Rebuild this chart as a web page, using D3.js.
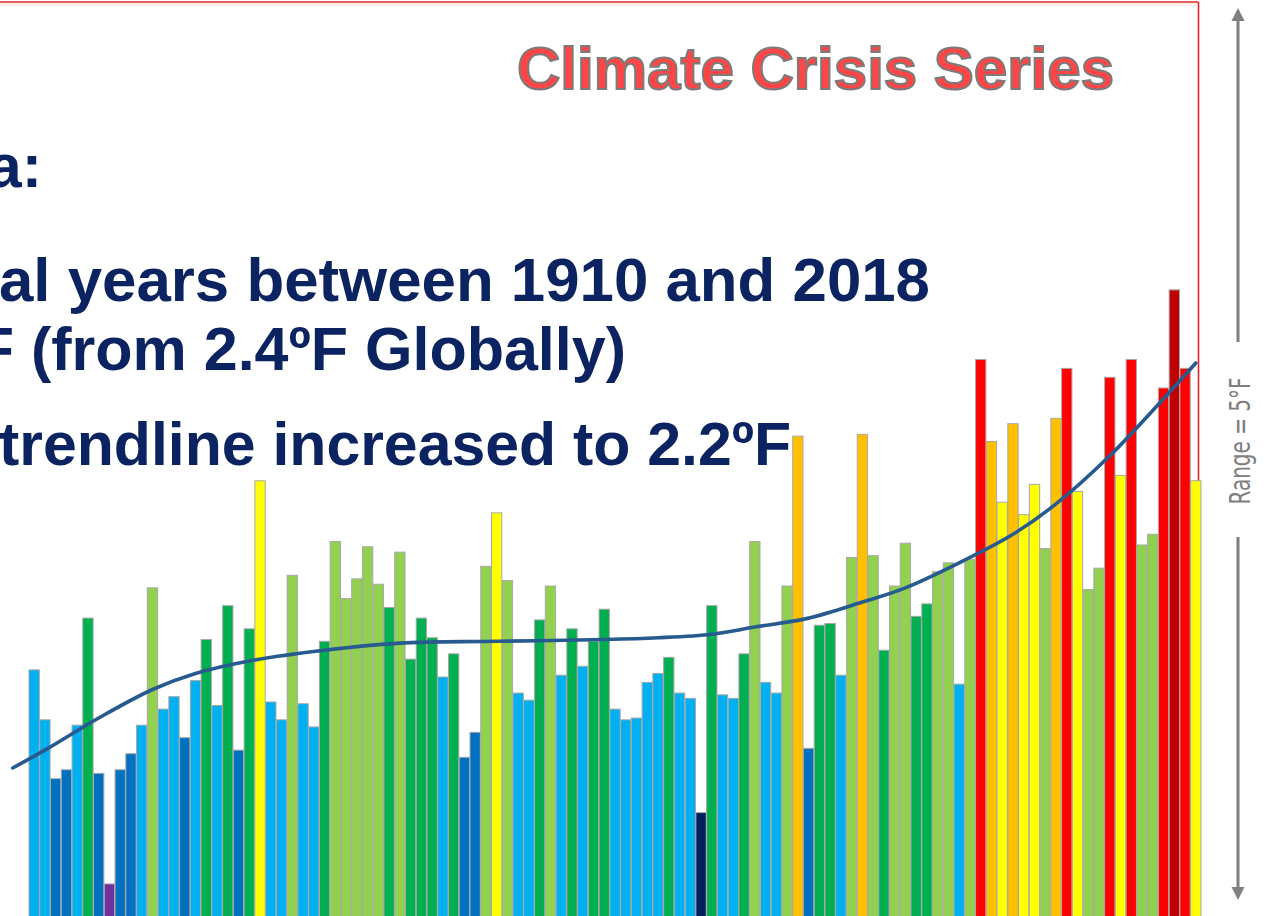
<!DOCTYPE html>
<html>
<head>
<meta charset="utf-8">
<script src="https://cdn.jsdelivr.net/npm/d3@7"></script>
<style>
  html, body { margin: 0; padding: 0; background: #ffffff; overflow: hidden; }
  svg { display: block; }
</style>
</head>
<body>
<div id="chart"></div>
<script>
// Annual temperature departures (°F), one bar per year 1910–2018
const firstYear = 1910;
const anomalies = [
  -1.21, -1.49, -1.82, -1.77, -1.52, -0.92, -1.79, -2.41, -1.77, -1.68,
  -1.52, -0.75, -1.43, -1.36, -1.59, -1.27, -1.04, -1.41, -0.85, -1.66,
  -0.98, -0.15, -1.39, -1.49, -0.68, -1.40, -1.53, -1.05, -0.49, -0.81,
  -0.70, -0.52, -0.73, -0.86, -0.55, -1.15, -0.92, -1.03, -1.25, -1.12,
  -1.70, -1.56, -0.63, -0.33, -0.71, -1.34, -1.38, -0.93, -0.74, -1.24,
  -0.98, -1.19, -1.05, -0.87, -1.43, -1.49, -1.48, -1.28, -1.23, -1.14,
  -1.34, -1.37, -2.01, -0.85, -1.35, -1.37, -1.12, -0.49, -1.28, -1.34,
  -0.74,  0.10, -1.65, -0.96, -0.95, -1.24, -0.58,  0.11, -0.57, -1.10,
  -0.74, -0.50, -0.91, -0.84, -0.66, -0.61, -1.29, -0.59,  0.53,  0.07,
  -0.27,  0.17, -0.34, -0.17, -0.53,  0.20,  0.48, -0.21, -0.76, -0.64,
   0.43, -0.12,  0.53, -0.51, -0.45,  0.37,  0.92,  0.48, -0.15
];
const years = anomalies.map((_, i) => firstYear + i);

// Trendline readings (year, °F)
const trendYears  = [1908, 1911, 1916, 1921, 1925, 1930, 1937, 1944, 1953, 1963, 1968,
                     1973, 1977, 1982, 1987, 1991, 1996, 2001, 2005, 2010, 2015, 2018];
const trendValues = [-1.76, -1.66, -1.48, -1.32, -1.23, -1.16, -1.10, -1.06, -1.05, -1.04, -1.03,
                     -1.01, -0.97, -0.92, -0.83, -0.75, -0.61, -0.45, -0.28, -0.01, 0.31, 0.51];

// Colour classes by departure
const classBreaks = [-2.2, -1.9, -1.545, -1.17, -0.825, -0.4, 0, 0.3, 0.7];
const classColors = ["#7030a0", "#002060", "#0070c0", "#00b0f0", "#00b050",
                     "#92d050", "#ffff00", "#ffc000", "#ff0000", "#c00000"];

// Headline text (lines run off the left edge of the panel)
const titleText = "Climate Crisis Series";
const headlineLines = [
  { text: "a:", x: 42, anchor: "end", baseline: 187 },
  { text: "al years between 1910 and 2018", x: -1, anchor: "start", baseline: 301, len: 931 },
  { text: "F (from 2.4ºF Globally)", x: 626, anchor: "end", baseline: 370 },
  { text: "trendline increased to 2.2ºF", x: -1, anchor: "start", baseline: 465, len: 792 }
];
const rangeLabel = "Range = 5°F";
const rangeSpan = [-2.5, 2.5];

const W = 1264, H = 916;
const svg = d3.select("#chart").append("svg")
  .attr("width", W).attr("height", H)
  .attr("viewBox", `0 0 ${W} ${H}`);

svg.append("rect").attr("width", W).attr("height", H).attr("fill", "#ffffff");

const x = d3.scaleBand().domain(years).range([29, 1201]).paddingInner(0.04).paddingOuter(0);
const y = d3.scaleLinear().domain(rangeSpan).range([900, 8]);
const color = d3.scaleThreshold().domain(classBreaks).range(classColors);

// continuous year axis through bar centres (for the trendline)
const xYear = d3.scaleLinear()
  .domain([years[0], years[years.length - 1]])
  .range([x(years[0]) + x.bandwidth() / 2, x(years[years.length - 1]) + x.bandwidth() / 2]);

// slide frame
svg.append("line").attr("x1", 0).attr("x2", 1197).attr("y1", 4.5).attr("y2", 4.5)
  .attr("stroke", "#fbf1ea").attr("stroke-width", 3);
const frame = svg.append("g").attr("fill", "none").attr("stroke", "#e3262d").attr("stroke-width", 1.6);
frame.append("line").attr("x1", 0).attr("x2", 1198.5).attr("y1", 2).attr("y2", 2);
frame.append("line").attr("x1", 1198.5).attr("x2", 1198.5).attr("y1", 2).attr("y2", H);

// title
svg.append("text")
  .attr("x", 1114).attr("y", 89)
  .attr("text-anchor", "end")
  .attr("font-family", "'Liberation Sans', Arial, sans-serif")
  .attr("font-weight", "bold")
  .attr("font-size", 60)
  .attr("fill", "#ff4646")
  .attr("stroke", "#7b7b7b")
  .attr("stroke-width", 2)
  .text(titleText);

// headline lines
svg.append("g").selectAll("text").data(headlineLines).join("text")
  .attr("x", d => d.x).attr("y", d => d.baseline)
  .attr("text-anchor", d => d.anchor)
  .attr("font-family", "'Liberation Sans', Arial, sans-serif")
  .attr("font-weight", "bold")
  .attr("font-size", 61)
  .attr("fill", "#0b2361")
  .each(function (d) {
    if (d.len) d3.select(this).attr("textLength", d.len).attr("lengthAdjust", "spacingAndGlyphs");
  })
  .text(d => d.text);

// bars
svg.append("g").selectAll("rect").data(years).join("rect")
  .attr("x", d => x(d))
  .attr("y", (d, i) => y(anomalies[i]))
  .attr("width", x.bandwidth())
  .attr("height", (d, i) => H + 4 - y(anomalies[i]))
  .attr("fill", (d, i) => color(anomalies[i]))
  .attr("stroke", "#a8a8a8")
  .attr("stroke-width", 1);

// trendline
const trend = trendYears.map((yr, i) => [yr, trendValues[i]]);
svg.append("path")
  .datum(trend)
  .attr("fill", "none")
  .attr("stroke", "#275a8e")
  .attr("stroke-width", 3.6)
  .attr("stroke-linecap", "round")
  .attr("d", d3.line().x(d => xYear(d[0])).y(d => y(d[1])).curve(d3.curveCatmullRom.alpha(0.5)));

// range indicator on the right
const rx = 1238;
const rg = svg.append("g").attr("fill", "#7f7f7f").attr("stroke", "#7f7f7f");
rg.append("line").attr("x1", rx).attr("x2", rx).attr("y1", 18).attr("y2", 342).attr("stroke-width", 3);
rg.append("path").attr("stroke", "none").attr("d", `M${rx},${y(rangeSpan[1])}l-6.5,13h13z`);
rg.append("line").attr("x1", rx).attr("x2", rx).attr("y1", 537).attr("y2", 890).attr("stroke-width", 3);
rg.append("path").attr("stroke", "none").attr("d", `M${rx},${y(rangeSpan[0])}l-6.5,-13h13z`);
svg.append("text")
  .attr("transform", `translate(1250,441) rotate(-90)`)
  .attr("text-anchor", "middle")
  .attr("font-family", "'Liberation Sans Narrow', 'DejaVu Sans Condensed', sans-serif")
  .attr("font-size", 28)
  .attr("textLength", 127)
  .attr("lengthAdjust", "spacingAndGlyphs")
  .attr("fill", "#7f7f7f")
  .text(rangeLabel);
</script>
</body>
</html>
